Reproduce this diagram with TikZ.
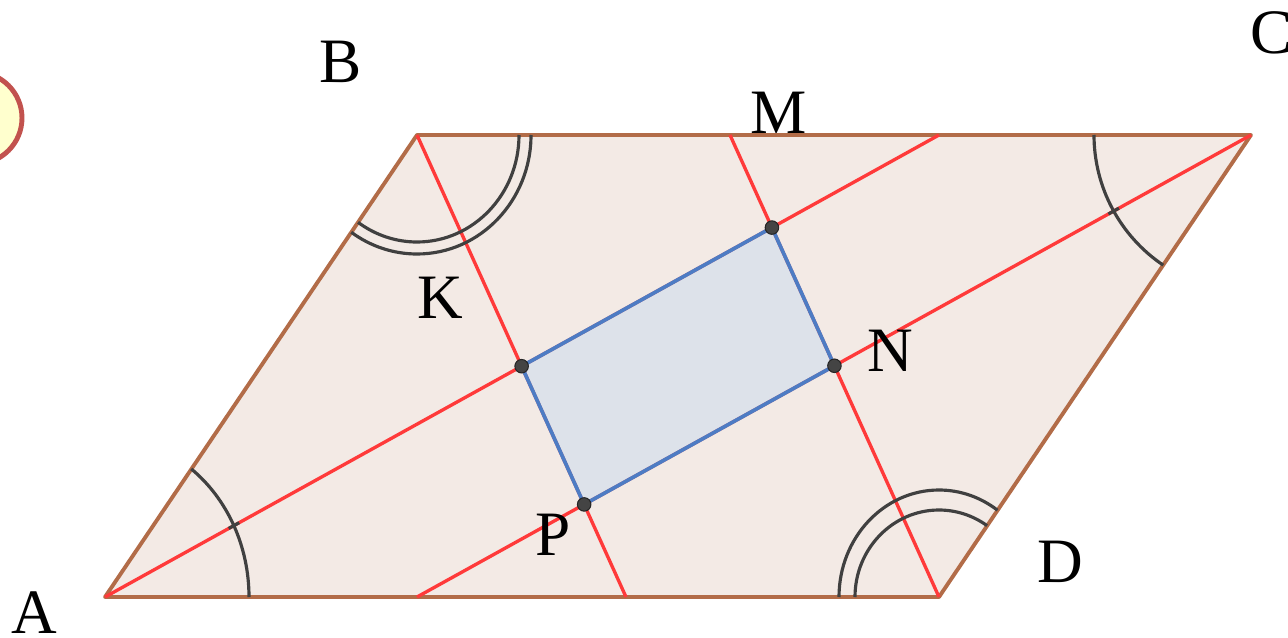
\documentclass[tikz,border=0pt]{standalone}
\usepackage{fontspec}
\setmainfont{Liberation Serif}

\definecolor{sidebrown}{RGB}{178,108,72}
\definecolor{parfill}{RGB}{243,234,229}
\definecolor{linered}{RGB}{255,58,58}
\definecolor{quadblue}{RGB}{77,124,196}
\definecolor{quadfill}{RGB}{221,226,234}
\definecolor{markgray}{RGB}{64,64,64}
\definecolor{dotgray}{RGB}{68,68,68}
\definecolor{discfill}{RGB}{255,255,206}
\definecolor{discedge}{RGB}{194,82,78}

\begin{document}
\begin{tikzpicture}[
    x=0.02cm, y=0.02cm,
    side/.style={draw=sidebrown, line width=2.2pt, fill=parfill, line join=round},
    bisector/.style={draw=linered, line width=1.9pt},
    anglemark/.style={draw=markgray, line width=1.8pt},
    quad/.style={draw=quadblue, line width=2.1pt, line join=round},
    dot/.style={circle, fill=dotgray, draw=black!85, line width=0.6pt, inner sep=0pt, minimum size=0.27cm},
    lbl/.style={inner sep=0pt, font=\fontsize{36}{40}\selectfont}
]
    \useasboundingbox (0,0) rectangle (1288,637);
    \clip (0,0) rectangle (1288,637);

    \draw[draw=discedge, fill=discfill, line width=2.8pt] (-24,519) circle (46);

    \coordinate (A) at (105,40);
    \coordinate (B) at (417,502);
    \coordinate (C) at (1251,502);
    \coordinate (D) at (939,40);

    % where the four lines meet the sides
    \coordinate (E) at (939,502);
    \coordinate (G) at (417,40);
    \coordinate (F) at (626,40);
    \coordinate (H) at (730,502);

    \coordinate (K) at (intersection of A--E and B--F);
    \coordinate (M) at (intersection of A--E and D--H);
    \coordinate (N) at (intersection of C--G and D--H);
    \coordinate (P) at (intersection of C--G and B--F);

    \path[side] (A) -- (B) -- (C) -- (D) -- cycle;
    \fill[quadfill] (K) -- (M) -- (N) -- (P) -- cycle;

    \draw[bisector] (A) -- (E);
    \draw[bisector] (C) -- (G);
    \draw[bisector] (B) -- (F);
    \draw[bisector] (D) -- (H);

    % angle marks
    \draw[anglemark] (A) ++(144,0) arc[start angle=0, end angle=53.2, x radius=144, y radius=160];
    \draw[anglemark] (A) ++(28.99:141.4) -- ++(28.99:12);
    \draw[anglemark] (C) ++(-157,0) arc[start angle=180, end angle=236, radius=157];
    \draw[anglemark] (C) ++(208.99:151) -- ++(208.99:12);
    \draw[anglemark] (B) ++(102,0) arc[start angle=0, end angle=-125.3, x radius=102, y radius=107];
    \draw[anglemark] (B) ++(114,0) arc[start angle=0, end angle=-125.2, x radius=114, y radius=119];
    \draw[anglemark] (D) ++(-84,0) arc[start angle=180, end angle=55.1, x radius=84, y radius=87];
    \draw[anglemark] (D) ++(-100,0) arc[start angle=180, end angle=54.2, x radius=100, y radius=107];

    \draw[quad] (K) -- (M) -- (N) -- (P) -- cycle;

    \node[dot] (k) at (K) {};
    \node[dot] (m) at (M) {};
    \node[dot] (n) at (N) {};
    \node[dot] (p) at (P) {};

    \node[lbl] (labA) at (34,24) {A};
    \node[lbl] (labB) at (341,575) {B};
    \node[lbl] (labC) at (1272,604) {C};
    \node[lbl] (labD) at (1060,75) {D};
    \node[lbl] (labK) at (440,339.5) {K};
    \node[lbl] (labM) at (779,524.5) {M};
    \node[lbl] (labN) at (890.7,286) {N};
    \node[lbl] (labP) at (553.5,102) {P};
\end{tikzpicture}
\end{document}
